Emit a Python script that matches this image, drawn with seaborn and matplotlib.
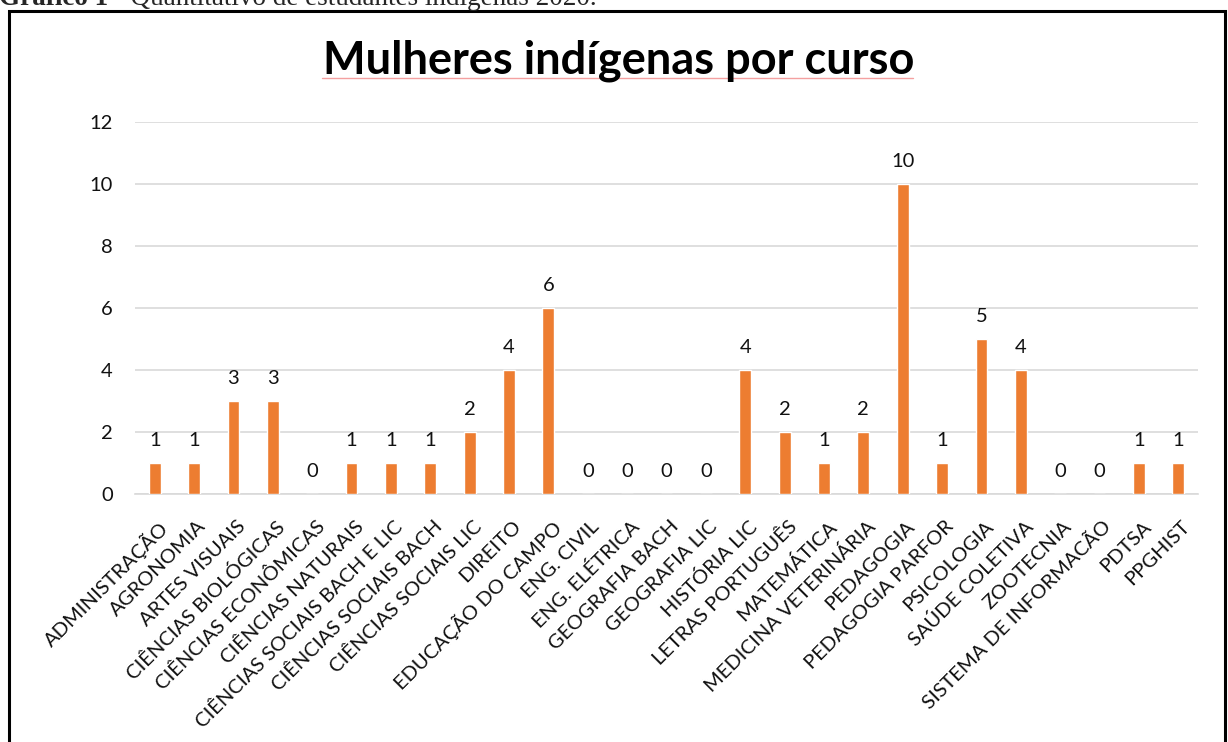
import matplotlib
matplotlib.use('Agg')
import matplotlib.pyplot as plt
import matplotlib.patches as mpatches
import matplotlib.lines as mlines
import matplotlib.transforms as mtransforms
import pandas as pd
import seaborn as sns


cursos = ['ADMINISTRAÇÃO', 'AGRONOMIA', 'ARTES VISUAIS', 'CIÊNCIAS BIOLÓGICAS',
          'CIÊNCIAS ECONÔMICAS', 'CIÊNCIAS NATURAIS', 'CIÊNCIAS SOCIAIS BACH E LIC',
          'CIÊNCIAS SOCIAIS BACH', 'CIÊNCIAS SOCIAIS LIC', 'DIREITO', 'EDUCAÇÃO DO CAMPO',
          'ENG. CIVIL', 'ENG. ELÉTRICA', 'GEOGRAFIA BACH', 'GEOGRAFIA LIC', 'HISTÓRIA LIC',
          'LETRAS PORTUGUÊS', 'MATEMÁTICA', 'MEDICINA VETERINÁRIA', 'PEDAGOGIA',
          'PEDAGOGIA PARFOR', 'PSICOLOGIA', 'SAÚDE COLETIVA', 'ZOOTECNIA',
          'SISTEMA DE INFORMACÃO', 'PDTSA', 'PPGHIST']
mulheres = [1, 1, 3, 3, 0, 1, 1, 1, 2, 4, 6, 0, 0, 0, 0, 4, 2, 1, 2, 10, 1, 5, 4, 0, 0, 1, 1]
y_ticks = [0, 2, 4, 6, 8, 10, 12]

df = pd.DataFrame({'curso': cursos, 'mulheres': mulheres})

sns.set_theme(style='white')
plt.rcParams['font.family'] = ['Lato', 'DejaVu Sans']

W, H = 1228, 742
fig = plt.figure(figsize=(W / 100, H / 100), dpi=100)
ax = fig.add_axes([135 / W, 1 - 494 / H, (1198 - 135) / W, (494 - 122) / H])

sns.barplot(data=df, x='curso', y='mulheres', color='#ED7D31', width=0.3,
            saturation=1, ax=ax, zorder=3)

ax.set_ylim(0, 12)
ax.set_yticks(y_ticks)
ax.set_yticklabels([str(t) for t in y_ticks], fontsize=14.5, color='#111111')
ax.yaxis.grid(True, color='#D9D9D9', linewidth=1.2, zorder=0)
ax.set_axisbelow(True)
for s in ['left', 'right', 'top']:
    ax.spines[s].set_visible(False)
ax.spines['bottom'].set_color('#D9D9D9')
ax.spines['bottom'].set_linewidth(1.2)
ax.tick_params(axis='y', length=0, pad=16)
ax.tick_params(axis='x', length=0, pad=17)
ax.set_xlabel('')
ax.set_ylabel('')
ax.set_xlim(-0.5, len(cursos) - 0.5)

shift = mtransforms.ScaledTranslation(3 / 100, 0, fig.dpi_scale_trans)
for lbl in ax.get_xticklabels():
    lbl.set_rotation(45)
    lbl.set_ha('right')
    lbl.set_va('top')
    lbl.set_rotation_mode('anchor')
    lbl.set_fontsize(14.5)
    lbl.set_color('#111111')
    lbl.set_transform(lbl.get_transform() + shift)

for i, v in enumerate(mulheres):
    ax.annotate(str(v), (i, v), xytext=(0, 10), textcoords='offset points',
                ha='center', va='bottom', fontsize=14.5, color='#111111')

fig.text(619 / W, 1 - 61 / H, 'Mulheres indígenas por curso', ha='center', va='center',
         fontsize=32.5, fontweight='bold', color='black')
fig.add_artist(mlines.Line2D([322 / W, 913 / W], [1 - 78 / H, 1 - 78 / H],
                             color='#F4A0A0', linewidth=1, transform=fig.transFigure))

# moldura
fig.add_artist(mpatches.Rectangle((9 / W, -0.01), (1225 - 9) / W, 1.01 - 11 / H,
                                  fill=False, edgecolor='black', linewidth=2.2,
                                  transform=fig.transFigure))

# legenda do gráfico (cortada no topo, como no original)
t1 = fig.text(-1 / W, 1 - 5 / H, 'Gráfico 1', ha='left', va='baseline', fontsize=19.5,
              fontweight='bold', family='Liberation Serif')
fig.canvas.draw()
bb = t1.get_window_extent()
fig.text(bb.x1 / W, 1 - 5 / H, ' - Quantitativo de estudantes indígenas 2020.', ha='left',
         va='baseline', fontsize=19.5, family='Liberation Serif')

fig.savefig('out.png', dpi=100)
